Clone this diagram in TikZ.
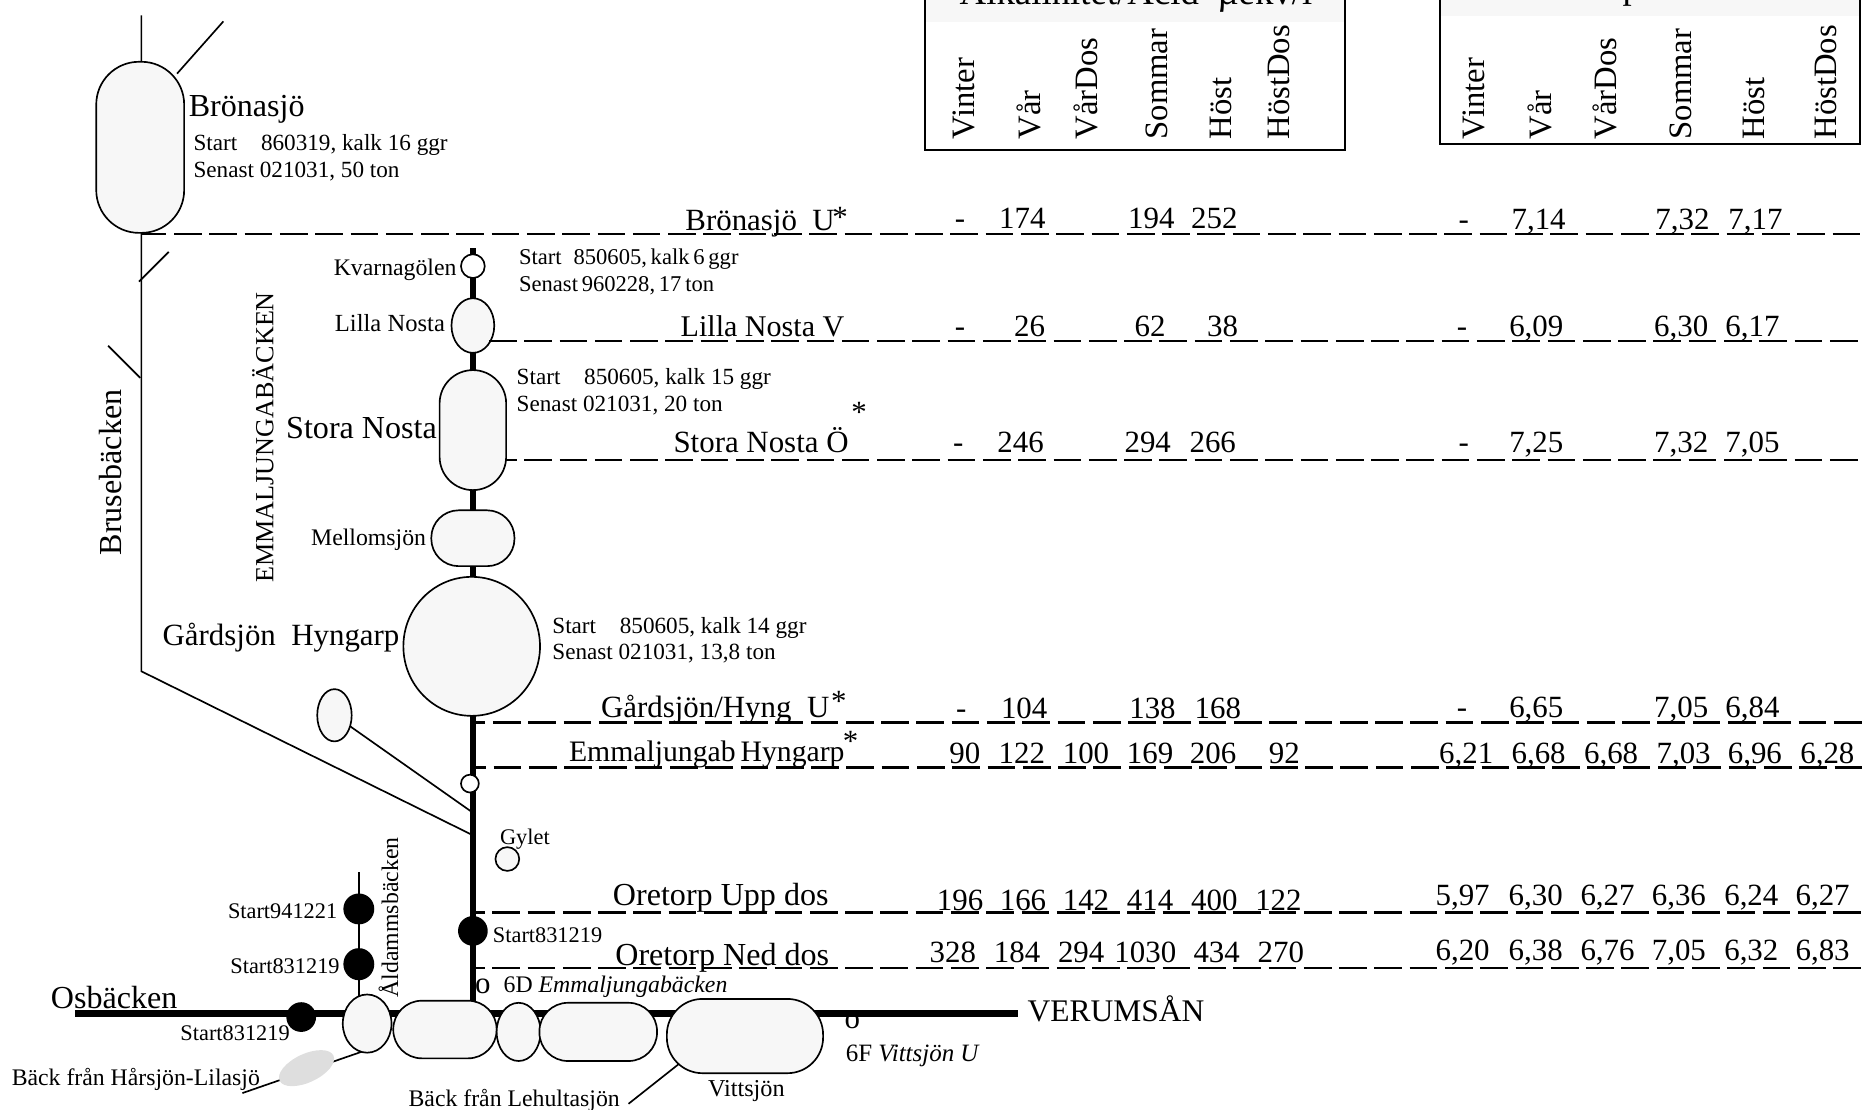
\documentclass[tikz,border=0pt]{standalone}
\usepackage{fontspec}
\setmainfont{Liberation Serif}
\usetikzlibrary{shapes.geometric}

\begin{document}
\begin{tikzpicture}[x=1pt, y=-1pt, line width=1.4pt,
    big/.style={anchor=base west, inner sep=0pt, xshift=-0.8pt, font=\fontsize{26}{28}\selectfont},
    mid/.style={anchor=base west, inner sep=0pt, xshift=-0.8pt, font=\fontsize{20}{22}\selectfont},
    small/.style={anchor=base west, inner sep=0pt, xshift=-0.8pt, font=\fontsize{19.5}{21}\selectfont},
    sitelab/.style={anchor=base west, inner sep=0pt, xshift=-0.8pt, font=\fontsize{18.8}{20}\selectfont},
    num/.style={anchor=base, inner sep=0pt, font=\fontsize{26}{28}\selectfont},
    title/.style={anchor=base west, inner sep=0pt, font=\fontsize{31}{32}\selectfont},
    colhead/.style={anchor=base west, inner sep=0pt, rotate=90, font=\fontsize{27.5}{29}\selectfont},
    star/.style={anchor=center, inner sep=0pt, font=\fontsize{26}{26}\selectfont},
    pill/.style={draw, fill=black!3, rounded corners=#1, inner sep=0pt, outer sep=0pt},
    lake/.style={draw, fill=black!3, ellipse, inner sep=0pt, outer sep=0pt},
    hole/.style={draw, fill=white, ellipse, inner sep=0pt, outer sep=0pt},
    site/.style={fill=black, ellipse, inner sep=0pt, outer sep=0pt},
    river/.style={line width=4.6pt},
    mainriver/.style={line width=6pt},
    rowline/.style={line width=1.9pt, dash pattern=on 23.3pt off 6.4pt}]
    \useasboundingbox (0,0) rectangle (1568,934);
    \clip (0,0) rectangle (1568,934);

    \coordinate (bruseTop) at (119,13);
    \coordinate (bruseBend) at (119,565);
    \coordinate (bruseEnd) at (398,703);
    \coordinate (tribA) at (188,18);
    \coordinate (tribAend) at (149,62);
    \coordinate (tribB) at (142,212);
    \coordinate (tribBend) at (117,237);
    \coordinate (tribC) at (91,291);
    \coordinate (tribCend) at (118,318);
    \coordinate (pondEnd) at (398,684);
    \coordinate (aldTop) at (302,734);
    \coordinate (aldEnd) at (302,845);
    \coordinate (verStart) at (63,853);
    \coordinate (verEnd) at (857,853);
    \coordinate (riverTop) at (398,209);
    \coordinate (riverEnd) at (398,848);
    \coordinate (harsEnd) at (204,920);
    \coordinate (harsLake) at (305,885);
    \coordinate (lehuEnd) at (529,929);
    \coordinate (lehuLake) at (572,895);

    \draw (bruseTop) -- (bruseBend) -- (bruseEnd);
    \draw (tribA) -- (tribAend);
    \draw (tribB) -- (tribBend);
    \draw (tribC) -- (tribCend);
    \draw (aldTop) -- (aldEnd);
    \draw (harsEnd) -- (harsLake);
    \draw (lehuEnd) -- (lehuLake);
    \draw[mainriver] (verStart) -- (verEnd);
    \draw[river] (riverTop) -- (riverEnd);

    \node[pill=36, minimum width=74pt, minimum height=144pt] (bronasjo) at (118,124) {};
    \node[hole, minimum width=20pt, minimum height=20pt] (kvarna) at (398,224) {};
    \node[lake, minimum width=36pt, minimum height=46pt] (lilla) at (398,274) {};
    \node[pill=28, minimum width=56pt, minimum height=101pt] (stora) at (398,362) {};
    \node[pill=23, minimum width=70pt, minimum height=47pt] (mellom) at (398,453) {};
    \node[lake, minimum width=115pt, minimum height=117pt] (gardsjon) at (397,544) {};
    \node[lake, minimum width=29pt, minimum height=44pt] (pond) at (281.5,602) {};
    \node[lake, minimum width=20pt, minimum height=20pt] (gylet) at (427,723) {};
    \node[site, minimum width=25pt, minimum height=25pt] (siteE) at (398,783.5) {};
    \node[site, minimum width=26pt, minimum height=26pt] (siteA) at (302,765) {};
    \node[site, minimum width=26pt, minimum height=27pt] (siteB) at (302,811.5) {};
    \node[site, minimum width=25pt, minimum height=25pt] (siteO) at (253.5,856) {};
    \node[lake, minimum width=41pt, minimum height=49pt] (verA) at (309,861.5) {};
    \node[pill=24, minimum width=87pt, minimum height=48.5pt] (verB) at (374.5,866.5) {};
    \node[lake, minimum width=37pt, minimum height=49pt] (verC) at (436.5,868.5) {};
    \node[pill=24, minimum width=99pt, minimum height=49pt] (verD) at (503.5,868.5) {};
    \node[pill=30, minimum width=131.5pt, minimum height=62.5pt] (vittsjo) at (627,872) {};
    \node[ellipse, fill=black!13, inner sep=0pt, minimum width=50pt, minimum height=24pt, rotate=25] (harslake) at (258,899) {};
    \node[hole, minimum width=15pt, minimum height=15pt] (tiny) at (395.5,659.5) {};
    \draw (pond) -- (pondEnd);

    \foreach \rowname/\xs/\ys/\ph in {rowa/119/197/2.2, rowb/410/287/28.2, rowc/425/387/13.5, rowd/398/608/12.8, rowe/398/646/12.3, rowf/398/768/13.4, rowg/398/815/13.4} {
        \coordinate (\rowname s) at (\xs,\ys);
        \coordinate (\rowname e) at (1568,\ys);
        \draw[rowline, dash phase=\ph pt] (\rowname s) -- (\rowname e);
    }

    \node[draw, fill=white, anchor=south west, minimum width=353.5pt, minimum height=140pt, inner sep=0pt] (alkbox) at (778,127) {};
    \node[fill=black!3, anchor=north west, minimum width=352pt, minimum height=27.4pt, inner sep=0pt] (alkhead) at (778.7,-10) {};
    \node[draw, fill=white, anchor=south west, minimum width=354pt, minimum height=135pt, inner sep=0pt] (phbox) at (1211,122) {};
    \node[fill=black!3, anchor=north west, minimum width=352.6pt, minimum height=22.6pt, inner sep=0pt] (phhead) at (1211.7,-10) {};
    \node[title] (alktitle) at (807,3.5) {Alkalinitet/Acid\ \ µekv/l};
    \node[title] (phtitle) at (1365,-1) {pH};

    \foreach \bx/\name [count=\i] in {820/Vinter, 875.5/Vår, 923.5/VårDos, 982.5/Sommar, 1036.5/Höst, 1085.5/HöstDos}
        \node[colhead] (alkcol\i) at (\bx,118) {\name};
    \foreach \bx/\name [count=\i] in {1249.5/Vinter, 1305.5/Vår, 1360.5/VårDos, 1423.5/Sommar, 1485/Höst, 1545.5/HöstDos}
        \node[colhead] (phcol\i) at (\bx,118) {\name};

    \node[big, font=\fontsize{27}{28}\selectfont] (lblBronasjo) at (159,98) {Brönasjö};
    \node[small] (infoAa) at (163,127) {Start\hspace{20pt}860319, kalk 16 ggr};
    \node[small] (infoAb) at (163,149) {Senast 021031, 50 ton};
    \node[mid] (lblKvarna) at (281,232) {Kvarnagölen};
    \node[small, font=\fontsize{19}{21}\selectfont] (infoBa) at (437,223) {Start\hspace{10pt}850605,\,kalk\,6\,ggr};
    \node[small, font=\fontsize{19}{21}\selectfont] (infoBb) at (437,245) {Senast\,960228,\,17\,ton};
    \node[mid, font=\fontsize{20.7}{22}\selectfont] (lblLilla) at (282,279) {Lilla Nosta};
    \node[small] (infoCa) at (435,324) {Start\hspace{20pt}850605, kalk 15 ggr};
    \node[small] (infoCb) at (435,346) {Senast 021031, 20 ton};
    \node[big, font=\fontsize{27}{28}\selectfont] (lblStora) at (241,369) {Stora Nosta};
    \node[mid] (lblMellom) at (262,459) {Mellomsjön};
    \node[big] (lblGard) at (137,543) {Gårdsjön\ \ Hyngarp};
    \node[small] (infoDa) at (465,533) {Start\hspace{20pt}850605, kalk 14 ggr};
    \node[small] (infoDb) at (465,555) {Senast 021031, 13,8 ton};
    \node[sitelab] (lblGylet) at (421,711) {Gylet};
    \node[sitelab] (lblSiteE) at (415,793) {Start831219};
    \node[sitelab] (lblSiteA) at (192,773) {Start941221};
    \node[sitelab] (lblSiteB) at (194,819) {Start831219};
    \node[sitelab] (lblSiteO) at (152,876) {Start831219};
    \node[big, font=\fontsize{27}{28}\selectfont] (lblOs) at (43,849) {Osbäcken};
    \node[big, font=\fontsize{26.5}{28}\selectfont] (lblVer) at (865,860) {VERUMSÅN};
    \node[big] (markD) at (400,836) {o};
    \node[mid] (lblSixD) at (424,835) {6D \textit{Emmaljungabäcken}};
    \node[big] (markF) at (711,866) {o};
    \node[mid, font=\fontsize{21}{22}\selectfont] (lblSixF) at (712,893) {6F \textit{Vittsjön U}};
    \node[mid, font=\fontsize{20.4}{22}\selectfont] (lblVitt) at (596,923) {Vittsjön};
    \node[mid] (lblHars) at (10,914) {Bäck från Hårsjön-Lilasjö};
    \node[mid] (lblLehu) at (344,931) {Bäck från Lehultasjön};
    \node[colhead, font=\fontsize{27}{28}\selectfont] (lblBruse) at (102,468) {Brusebäcken};
    \node[colhead, font=\fontsize{22}{24}\selectfont] (lblEmma) at (230,491) {EMMALJUNGABÄCKEN};
    \node[colhead, font=\fontsize{20}{22}\selectfont] (lblAld) at (335,840) {Åldammsbäcken};

    \node[big] (staA) at (577,194) {Brönasjö\ \ U};
    \node[star] (starA) at (707,183) {*};
    \node[big, font=\fontsize{25.3}{28}\selectfont] (staB) at (573,283) {Lilla Nosta V};
    \node[big] (staC) at (567,381) {Stora Nosta Ö};
    \node[star] (starC) at (723,347) {*};
    \node[big] (staD) at (506,604) {Gårdsjön/Hyng\ \ U};
    \node[star] (starD) at (706,590) {*};
    \node[big, font=\fontsize{25}{28}\selectfont] (staE) at (479,641) {Emmaljungab\,Hyngarp};
    \node[star] (starE) at (716,624) {*};
    \node[big, font=\fontsize{27}{28}\selectfont] (staF) at (516,762) {Oretorp Upp dos};
    \node[big, font=\fontsize{27}{28}\selectfont] (staG) at (518,813) {Oretorp Ned dos};

    \foreach \cx/\val [count=\i] in {808/-, 860.5/174, 969/194, 1022/252}
        \node[num] (alkA\i) at (\cx,192) {\val};
    \foreach \cx/\val [count=\i] in {808/-, 866.6/26, 968/62, 1029/38}
        \node[num] (alkB\i) at (\cx,283) {\val};
    \foreach \cx/\val [count=\i] in {806.6/-, 859/246, 966/294, 1020.7/266}
        \node[num] (alkC\i) at (\cx,381) {\val};
    \foreach \cx/\val [count=\i] in {809/-, 862/104, 970/138, 1025/168}
        \node[num] (alkD\i) at (\cx,605) {\val};
    \foreach \cx/\val [count=\i] in {812/90, 860/122, 914/100, 968/169, 1021/206, 1081/92}
        \node[num] (alkE\i) at (\cx,643) {\val};
    \foreach \cx/\val [count=\i] in {808/196, 861/166, 914/142, 968/414, 1022/400, 1076/122}
        \node[num] (alkF\i) at (\cx,766) {\val};
    \foreach \cx/\val [count=\i] in {802/328, 856/184, 910/294, 964/1030, 1024/434, 1078/270}
        \node[num] (alkG\i) at (\cx,810) {\val};

    \node[num] (phAd) at (1232,193) {-};
    \foreach \cx/\a/\b [count=\i] in {1295/7/14, 1416/7/32, 1477.5/7/17}
        \node[num] (phA\i) at (\cx,193) {\a,\b};
    \node[num] (phBd) at (1230.6,283) {-};
    \foreach \cx/\a/\b [count=\i] in {1293/6/09, 1415/6/30, 1475/6/17}
        \node[num] (phB\i) at (\cx,283) {\a,\b};
    \node[num] (phCd) at (1232,381) {-};
    \foreach \cx/\a/\b [count=\i] in {1293/7/25, 1415/7/32, 1475/7/05}
        \node[num] (phC\i) at (\cx,381) {\a,\b};
    \node[num] (phDd) at (1230.6,604) {-};
    \foreach \cx/\a/\b [count=\i] in {1293/6/65, 1415/7/05, 1475/6/84}
        \node[num] (phD\i) at (\cx,604) {\a,\b};
    \foreach \cx/\a/\b [count=\i] in {1234/6/21, 1295/6/68, 1356/6/68, 1417/7/03, 1477/6/96, 1538/6/28}
        \node[num] (phE\i) at (\cx,643) {\a,\b};
    \foreach \cx/\a/\b [count=\i] in {1231/5/97, 1292.5/6/30, 1353/6/27, 1413/6/36, 1474/6/24, 1534/6/27}
        \node[num] (phF\i) at (\cx,762) {\a,\b};
    \foreach \cx/\a/\b [count=\i] in {1231/6/20, 1292.5/6/38, 1353/6/76, 1413/7/05, 1474/6/32, 1534/6/83}
        \node[num] (phG\i) at (\cx,808) {\a,\b};
\end{tikzpicture}
\end{document}
